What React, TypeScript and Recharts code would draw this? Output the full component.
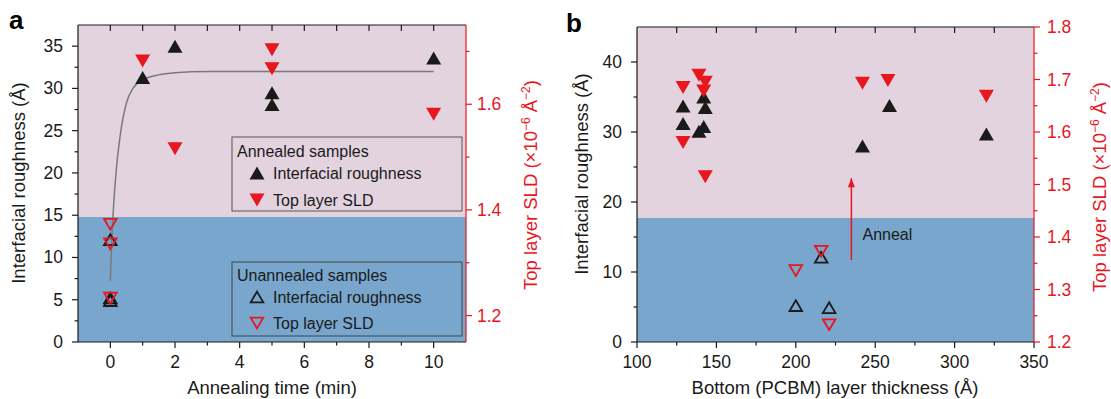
import React from 'react'
import { ComposedChart, Scatter, XAxis, YAxis, ReferenceArea, ReferenceDot } from 'recharts'

const RED = '#e8161e'
const INK = '#1a1a1a'
const PINK = '#e2d3df'
const BLUE = '#78a6cc'
const FONT = '"Liberation Sans", Arial, Helvetica, sans-serif'

// ---- panel a: roughness / SLD vs annealing time ----
const aTimeAnnealed = [1, 2, 5, 5, 10]
const aRoughAnnealed = [31.3, 35.0, 29.5, 28.1, 33.6]
const aSldAnnealed = [1.682, 1.516, 1.703, 1.667, 1.581]
const aTimeUnannealed = [0, 0, 0]
const aRoughUnannealed = [5.2, 12.1, 4.9]
const aSldUnannealed = [1.336, 1.373, 1.233]
// grey fit curve
const aFitTime = [0, 0.03, 0.07, 0.125, 0.2, 0.3, 0.5, 0.7, 1, 1.5, 2, 3, 10]
const aFitRough = [7.2, 10.5, 14, 17.5, 21, 24.3, 28.3, 30, 31, 31.6, 31.85, 32, 32]
const aBoundary = 14.8

const aXTicks = [0, 1, 2, 3, 4, 5, 6, 7, 8, 9, 10]
const aXLabels = [0, 2, 4, 6, 8, 10]
const aYTicks = [0, 2.5, 5, 7.5, 10, 12.5, 15, 17.5, 20, 22.5, 25, 27.5, 30, 32.5, 35]
const aYLabels = [0, 5, 10, 15, 20, 25, 30, 35]
const aRTicks = [1.2, 1.3, 1.4, 1.5, 1.6, 1.7]
const aRLabels = [1.2, 1.4, 1.6]

// ---- panel b: roughness / SLD vs bottom layer thickness ----
const bThickAnnealed = [129, 129, 139, 142, 143, 142, 242, 259, 320]
const bRoughAnnealed = [33.7, 31.2, 30.1, 35.0, 33.5, 30.8, 28.0, 33.8, 29.7]
const bThickSld = [129, 129, 139, 143, 142, 143, 242, 258, 320]
const bSldAnnealed = [1.685, 1.58, 1.708, 1.695, 1.678, 1.515, 1.693, 1.698, 1.668]
const bThickUnannealed = [200, 216, 221]
const bRoughUnannealed = [5.2, 12.1, 4.9]
const bSldUnannealed = [1.336, 1.373, 1.233]
const bArrowThick = [235, 235]
const bArrowRough = [11.7, 23.4]
const bBoundary = 17.7

const bXTicks = [100, 125, 150, 175, 200, 225, 250, 275, 300, 325, 350]
const bXLabels = [100, 150, 200, 250, 300, 350]
const bTopTicks = [125, 150, 175, 200, 225, 250, 275, 300, 325]
const bYTicks = [0, 5, 10, 15, 20, 25, 30, 35, 40]
const bYLabels = [0, 10, 20, 30, 40]
const bRTicks = [1.2, 1.25, 1.3, 1.35, 1.4, 1.45, 1.5, 1.55, 1.6, 1.65, 1.7, 1.75, 1.8]
const bRLabels = [1.2, 1.3, 1.4, 1.5, 1.6, 1.7, 1.8]

const pts = (xs: number[], ys: number[]) => xs.map((x, i) => ({ x, y: ys[i] }))

type Side = 'bottom' | 'top' | 'left' | 'right'

function axisTick(side: Side, labels: number[], color: string, digits: number, gap: number) {
  return (p: any) => {
    const { x, y, payload } = p
    const v = Number(payload.value)
    const major = side === 'top' || labels.some((m) => Math.abs(m - v) < 1e-6)
    const len = major ? 6 : 3.5
    const label = v.toFixed(digits)
    const txt = { fill: color, fontSize: 17.5, fontFamily: FONT }
    if (side === 'bottom' || side === 'top') {
      return (
        <g>
          <line x1={x} x2={x} y1={y} y2={y + len} stroke={color} strokeWidth={1.2} />
          {side === 'bottom' && major && (
            <text x={x} y={y + gap} textAnchor="middle" {...txt}>{label}</text>
          )}
        </g>
      )
    }
    const dir = side === 'left' ? -1 : 1
    return (
      <g>
        <line x1={x} x2={x + dir * len} y1={y} y2={y} stroke={color} strokeWidth={1.2} />
        {major && (
          <text x={x + dir * gap} y={y + 6} textAnchor={side === 'left' ? 'end' : 'start'} {...txt}>{label}</text>
        )}
      </g>
    )
  }
}

// triangle markers
const tri = (cx: number, cy: number, up: boolean, w: number, h: number) =>
  up
    ? `M${cx},${cy - h} L${cx + w},${cy + h} L${cx - w},${cy + h} Z`
    : `M${cx},${cy + h} L${cx + w},${cy - h} L${cx - w},${cy - h} Z`

const upFilled = (p: any) => <path d={tri(p.cx, p.cy, true, 7.5, 6.5)} fill={INK} />
const downFilled = (p: any) => <path d={tri(p.cx, p.cy, false, 7.5, 6.5)} fill={RED} />
const upOpen = (p: any) => <path d={tri(p.cx, p.cy, true, 6.3, 5.4)} fill="none" stroke={INK} strokeWidth={1.8} />
const downOpen = (p: any) => <path d={tri(p.cx, p.cy, false, 6.3, 5.4)} fill="none" stroke={RED} strokeWidth={1.8} />
const noDot = () => <g />

const arrowHead = (p: any) =>
  p.payload.y === Math.max(...bArrowRough) ? (
    <path d={`M${p.cx},${p.cy} L${p.cx + 3.5},${p.cy + 9} L${p.cx - 3.5},${p.cy + 9} Z`} fill={RED} />
  ) : (
    <g />
  )

const sldTitle = (x: number, y: number) => (
  <text transform={`translate(${x},${y}) rotate(-90)`} textAnchor="middle" fill={RED} fontSize={18.5}>
    Top layer SLD (×10<tspan dy={-7} fontSize={12}>−6</tspan>
    <tspan dy={7}> Å</tspan>
    <tspan dy={-7} fontSize={12}>−2</tspan>
    <tspan dy={7}>)</tspan>
  </text>
)

export default function App() {
  const axisCommon = { tickSize: 0, tickMargin: 0, tickLine: false, interval: 0 as const, allowDataOverflow: true }

  return (
    <div style={{ position: 'absolute', left: 0, top: 0, width: 1111, height: 399, background: '#fff', fontFamily: FONT }}>
      {/* Panel a */}
      <div style={{ position: 'absolute', left: 0, top: 0 }}>
        <ComposedChart width={555} height={399} margin={{ top: 0, right: 0, bottom: 0, left: 0 }}>
          <XAxis xAxisId="b" type="number" dataKey="x" domain={[-1, 11]} ticks={aXTicks} height={57}
            axisLine={{ stroke: INK, strokeWidth: 1.2 }} tick={axisTick('bottom', aXLabels, INK, 0, 26)} {...axisCommon} />
          <XAxis xAxisId="t" orientation="top" type="number" dataKey="x" domain={[-1, 11]} ticks={aXTicks} height={25}
            axisLine={{ stroke: INK, strokeWidth: 1.2 }} tick={axisTick('top', [], INK, 0, 0)} {...axisCommon} />
          <YAxis yAxisId="l" type="number" dataKey="y" domain={[0, 37.5]} ticks={aYTicks} width={78}
            axisLine={{ stroke: INK, strokeWidth: 1.2 }} tick={axisTick('left', aYLabels, INK, 0, 15)} {...axisCommon} />
          <YAxis yAxisId="r" orientation="right" type="number" dataKey="y" domain={[1.15, 1.75]} ticks={aRTicks} width={89}
            axisLine={{ stroke: RED, strokeWidth: 1.2 }} tick={axisTick('right', aRLabels, RED, 1, 11)} {...axisCommon} />

          <ReferenceArea xAxisId="b" yAxisId="l" x1={-1} x2={11} y1={aBoundary} y2={37.5} fill={PINK} fillOpacity={1} />
          <ReferenceArea xAxisId="b" yAxisId="l" x1={-1} x2={11} y1={0} y2={aBoundary} fill={BLUE} fillOpacity={1} />

          <Scatter xAxisId="b" yAxisId="l" data={pts(aFitTime, aFitRough)} line={{ stroke: '#7a7a7a', strokeWidth: 1.5 }}
            lineJointType="monotoneX" shape={noDot} isAnimationActive={false} />
          <Scatter xAxisId="b" yAxisId="l" data={pts(aTimeAnnealed, aRoughAnnealed)} shape={upFilled} isAnimationActive={false} />
          <Scatter xAxisId="b" yAxisId="r" data={pts(aTimeAnnealed, aSldAnnealed)} shape={downFilled} isAnimationActive={false} />
          <Scatter xAxisId="b" yAxisId="l" data={pts(aTimeUnannealed, aRoughUnannealed)} shape={upOpen} isAnimationActive={false} />
          <Scatter xAxisId="b" yAxisId="r" data={pts(aTimeUnannealed, aSldUnannealed)} shape={downOpen} isAnimationActive={false} />
        </ComposedChart>
      </div>

      {/* Panel b */}
      <div style={{ position: 'absolute', left: 555, top: 0 }}>
        <ComposedChart width={556} height={399} margin={{ top: 0, right: 0, bottom: 0, left: 0 }}>
          <XAxis xAxisId="b" type="number" dataKey="x" domain={[100, 350]} ticks={bXTicks} height={57}
            axisLine={{ stroke: INK, strokeWidth: 1.2 }} tick={axisTick('bottom', bXLabels, INK, 0, 26)} {...axisCommon} />
          <XAxis xAxisId="t" orientation="top" type="number" dataKey="x" domain={[100, 350]} ticks={bTopTicks} height={27}
            axisLine={{ stroke: INK, strokeWidth: 1.2 }} tick={axisTick('top', [], INK, 0, 0)} {...axisCommon} />
          <YAxis yAxisId="l" type="number" dataKey="y" domain={[0, 45]} ticks={bYTicks} width={82}
            axisLine={{ stroke: INK, strokeWidth: 1.2 }} tick={axisTick('left', bYLabels, INK, 0, 15)} {...axisCommon} />
          <YAxis yAxisId="r" orientation="right" type="number" dataKey="y" domain={[1.2, 1.8]} ticks={bRTicks} width={77}
            axisLine={{ stroke: RED, strokeWidth: 1.2 }} tick={axisTick('right', bRLabels, RED, 1, 13)} {...axisCommon} />

          <ReferenceArea xAxisId="b" yAxisId="l" x1={100} x2={350} y1={bBoundary} y2={45} fill={PINK} fillOpacity={1} />
          <ReferenceArea xAxisId="b" yAxisId="l" x1={100} x2={350} y1={0} y2={bBoundary} fill={BLUE} fillOpacity={1} />

          <Scatter xAxisId="b" yAxisId="l" data={pts(bArrowThick, bArrowRough)} line={{ stroke: RED, strokeWidth: 1.5 }}
            shape={arrowHead} isAnimationActive={false} />
          <ReferenceDot xAxisId="b" yAxisId="l" x={242} y={15.4} r={0}
            shape={(p: any) => (
              <text x={p.cx} y={p.cy} dominantBaseline="central" fontSize={16} fill={INK} fontFamily={FONT}>Anneal</text>
            )} />
          <Scatter xAxisId="b" yAxisId="l" data={pts(bThickAnnealed, bRoughAnnealed)} shape={upFilled} isAnimationActive={false} />
          <Scatter xAxisId="b" yAxisId="r" data={pts(bThickSld, bSldAnnealed)} shape={downFilled} isAnimationActive={false} />
          <Scatter xAxisId="b" yAxisId="l" data={pts(bThickUnannealed, bRoughUnannealed)} shape={upOpen} isAnimationActive={false} />
          <Scatter xAxisId="b" yAxisId="r" data={pts(bThickUnannealed, bSldUnannealed)} shape={downOpen} isAnimationActive={false} />
        </ComposedChart>
      </div>

      {/* panel letters, axis titles, legends */}
      <svg width={1111} height={399} style={{ position: 'absolute', left: 0, top: 0, pointerEvents: 'none' }} fontFamily={FONT}>
        <text x={9} y={29} fontSize={26} fontWeight="bold" fill="#000">a</text>
        <text x={566} y={32} fontSize={26} fontWeight="bold" fill="#000">b</text>

        <text transform="translate(25,183) rotate(-90)" textAnchor="middle" fontSize={18.5} fill={INK}>Interfacial roughness (Å)</text>
        <text x={272} y={394} textAnchor="middle" fontSize={18.5} fill={INK}>Annealing time (min)</text>
        {sldTitle(537, 185)}

        <text transform="translate(588,174) rotate(-90)" textAnchor="middle" fontSize={18.5} fill={INK}>Interfacial roughness (Å)</text>
        <text x={835} y={394} textAnchor="middle" fontSize={18.5} fill={INK}>Bottom (PCBM) layer thickness (Å)</text>
        {sldTitle(1106, 187)}

        <rect x={232} y={137} width={230} height={74} fill="none" stroke="#555" strokeWidth={1} />
        <text x={237} y={157} fontSize={16} fill={INK}>Annealed samples</text>
        {upFilled({ cx: 257, cy: 173 })}
        <text x={273} y={179} fontSize={16} fill={INK}>Interfacial roughness</text>
        {downFilled({ cx: 257, cy: 200 })}
        <text x={273} y={206} fontSize={16} fill={INK}>Top layer SLD</text>

        <rect x={232} y={262} width={230} height={74} fill="none" stroke="#444" strokeWidth={1} />
        <text x={237} y={281} fontSize={16} fill={INK}>Unannealed samples</text>
        {upOpen({ cx: 257, cy: 297 })}
        <text x={273} y={303} fontSize={16} fill={INK}>Interfacial roughness</text>
        {downOpen({ cx: 257, cy: 323 })}
        <text x={273} y={329} fontSize={16} fill={INK}>Top layer SLD</text>
      </svg>
    </div>
  )
}
